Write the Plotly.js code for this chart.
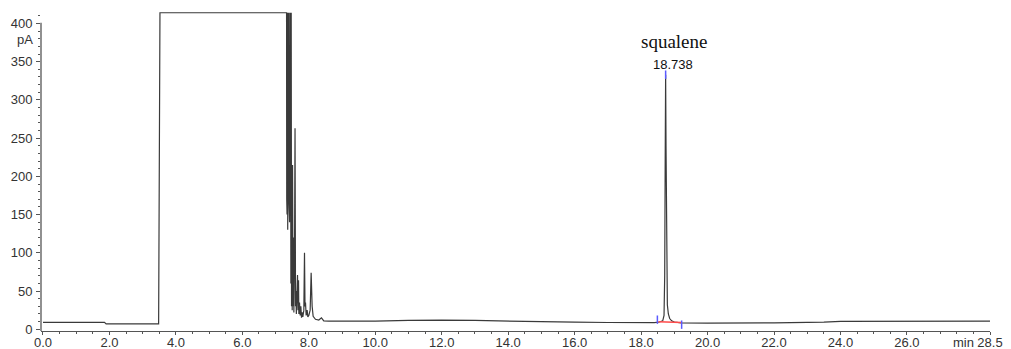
<!DOCTYPE html>
<html>
<head>
<meta charset="utf-8">
<script src="https://cdn.plot.ly/plotly-3.0.1.min.js"></script>
<style>
html,body{margin:0;padding:0;background:#fff;}
#chart{width:1011px;height:349px;}
</style>
</head>
<body>
<div id="chart"></div>
<script>
// Retention time (min) and detector signal (pA)
const timeMin = [
  0, 1.85, 1.9, 3.48, 3.52, 7.33,
  7.335, 7.34, 7.345, 7.35, 7.355, 7.36, 7.365, 7.37, 7.375, 7.38, 7.385, 7.39, 7.40, 7.41, 7.42, 7.43, 7.44, 7.45, 7.46, 7.47,
  7.48, 7.49, 7.50, 7.51, 7.525, 7.54, 7.55, 7.57, 7.585, 7.60, 7.61, 7.625, 7.64, 7.66, 7.675, 7.69, 7.70, 7.72, 7.74, 7.76, 7.78, 7.80, 7.82, 7.85, 7.87, 7.885, 7.90, 7.92, 7.95, 7.97, 8.0, 8.04, 8.07, 8.1, 8.13, 8.2, 8.3, 8.38, 8.45, 8.6,
  10.0, 11.0, 12.0, 13.0, 14.0, 15.0, 16.0, 17.0, 18.0, 18.4, 18.55, 18.65, 18.69, 18.71, 18.725, 18.738, 18.75, 18.76, 18.775, 18.79, 18.82, 18.86, 18.92, 19.0, 19.2,
  20.0, 22.0, 23.0, 23.5, 24.0, 26.0, 28.5
];
const signalPA = [
  9, 9, 7, 7, 414, 414,
  170, 414, 150, 414, 175, 414, 130, 414, 160, 414, 175, 414, 170, 414, 140, 414, 175, 414, 60, 414,
  30, 180, 25, 215, 30, 120, 22, 100, 263, 30, 50, 20, 45, 71, 25, 64, 20, 35, 18, 30, 15, 22, 16, 25, 100, 30, 35, 18, 25, 16, 18, 25, 74, 30, 17, 13, 12, 15, 11, 10.5,
  10.5, 11.5, 12, 11.5, 10.5, 9.8, 9.2, 8.8, 8.5, 8.6, 9.5, 11, 18, 70, 220, 333, 240, 120, 55, 32, 20, 14, 11, 9.5, 8.3,
  8.0, 8.3, 8.6, 9.2, 10.3, 10.5, 10.5
];
// integration baseline of the squalene peak
const baseTime = [18.52, 19.22];
const baseSignal = [9.8, 8.9];
// integration event markers
const markTime = [18.49, 18.738, 19.22];
const markSignal = [12.5, 333, 6];
// peak label
const peakName = "squalene";
const peakRT = "18.738";
const peakRTValue = 18.738;
const peakTop = 333;
// axis ticks
const xTickVals = [0, 2, 4, 6, 8, 10, 12, 14, 16, 18, 20, 22, 24, 26, 28.5];
const xTickText = ["0.0","2.0","4.0","6.0","8.0","10.0","12.0","14.0","16.0","18.0","20.0","22.0","24.0","26.0","28.5"];
const yTickVals = [0, 50, 100, 150, 200, 250, 300, 350, 400];

const axisColor = '#555';
const font = {family: 'Liberation Sans, Arial, sans-serif', size: 13, color: '#333'};

const traces = [
  {x: timeMin, y: signalPA, type: 'scatter', mode: 'lines',
   line: {color: '#3a3a3a', width: 1.2}, hoverinfo: 'skip'},
  {x: baseTime, y: baseSignal, type: 'scatter', mode: 'lines',
   line: {color: '#ff4a4a', width: 1.5}, hoverinfo: 'skip'},
  {x: markTime, y: markSignal, type: 'scatter', mode: 'markers',
   marker: {symbol: 'line-ns-open', size: 6, color: '#5a5aff', line: {color: '#5a5aff', width: 1.5}}, hoverinfo: 'skip'}
];

const layout = {
  width: 1011, height: 349,
  margin: {l: 41, r: 21, t: 12, b: 18, pad: 0},
  paper_bgcolor: '#fff', plot_bgcolor: '#fff',
  showlegend: false,
  font: font,
  xaxis: {
    range: [-0.06, 28.5], showgrid: false, zeroline: false,
    showline: true, linecolor: axisColor, linewidth: 1.3,
    tickmode: 'array', tickvals: xTickVals, ticktext: xTickText,
    ticks: 'outside', ticklen: 3, tickwidth: 1, tickcolor: axisColor,
    tickfont: font, ticklabelstandoff: -4,
    minor: {dtick: 0.5, tick0: 0, ticks: 'outside', ticklen: 2, tickwidth: 1, tickcolor: axisColor, showgrid: false}
  },
  yaxis: {
    range: [-2.3, 415], showgrid: false, zeroline: false, showline: false,
    tickmode: 'array', tickvals: yTickVals,
    ticks: 'outside', ticklen: 4, tickwidth: 1, tickcolor: axisColor,
    tickfont: font, ticklabelstandoff: 1,
    minor: {dtick: 10, tick0: 0, ticks: 'outside', ticklen: 2, tickwidth: 1, tickcolor: axisColor, showgrid: false}
  },
  shapes: [
    {type: 'line', xref: 'paper', yref: 'y', x0: 0, x1: 0, y0: -2.3, y1: 401,
     line: {color: axisColor, width: 1.3}}
  ],
  annotations: [
    {x: peakRTValue, y: peakTop, xref: 'x', yref: 'y', text: peakRT, showarrow: false,
     xanchor: 'center', yanchor: 'bottom', xshift: 7, yshift: 1,
     font: {family: 'Liberation Sans, Arial, sans-serif', size: 13, color: '#111'}},
    {x: peakRTValue, y: peakTop, xref: 'x', yref: 'y', text: peakName, showarrow: false,
     xanchor: 'center', yanchor: 'bottom', xshift: 8, yshift: 21,
     font: {family: 'Liberation Serif, Times New Roman, serif', size: 19, color: '#111'}},
    {x: 27.69, y: 0, xref: 'x', yref: 'paper', text: 'min', showarrow: false,
     xanchor: 'center', yanchor: 'top', yshift: -2, font: font},
    {x: 0, y: 400, xref: 'paper', yref: 'y', text: 'pA', showarrow: false,
     xanchor: 'right', yanchor: 'top', xshift: -6, yshift: -7, font: font}
  ]
};

Plotly.newPlot('chart', traces, layout, {staticPlot: true, displayModeBar: false});
</script>
</body>
</html>
